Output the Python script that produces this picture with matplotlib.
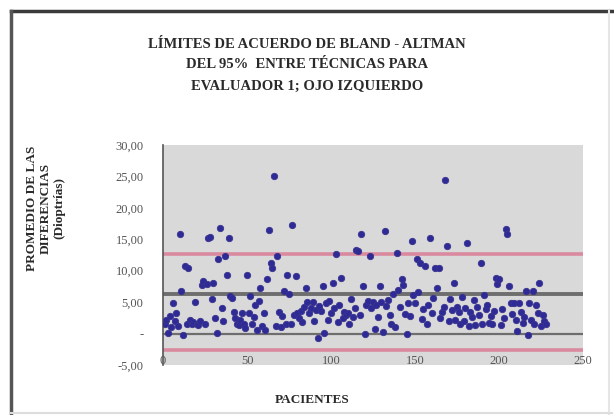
import matplotlib
matplotlib.use("Agg")
import matplotlib.pyplot as plt
from matplotlib.ticker import FuncFormatter
from matplotlib.lines import Line2D

# ---- data ----
diferencias = [
    1.5, 2.2, 0.1, 2.8, 1.0, 4.9, 2.0, 3.3, 1.2, 15.8,
    6.8, -0.2, 10.8, 1.6, 10.4, 2.1, 1.5, 1.8, 5.1, 1.6,
    1.4, 2.0, 7.7, 8.4, 1.6, 7.9, 15.2, 15.3, 5.5, 8.0,
    2.5, 0.1, 11.8, 16.8, 4.1, 2.0, 12.4, 9.3, 15.2, 6.0,
    5.7, 3.4, 2.5, 1.5, 1.4, 2.2, 3.3, 1.6, 0.9, 9.3,
    3.3, 6.0, 1.5, 2.7, 4.5, 0.6, 5.2, 7.2, 1.2, 3.3,
    0.6, 8.7, 16.4, 11.2, 10.5, 25.1, 1.2, 12.3, 3.4, 1.1,
    2.8, 6.8, 1.6, 9.3, 6.3, 1.6, 17.3, 3.0, 9.2, 3.3,
    2.4, 3.6, 1.8, 4.2, 7.3, 5.0, 3.3, 4.1, 5.0, 2.0,
    3.8, -0.7, 4.4, 3.6, 7.6, 0.1, 4.8, 2.2, 5.2, 3.2,
    8.0, 4.0, 12.7, 1.8, 4.6, 8.9, 2.5, 3.5, 2.9, 3.3,
    1.6, 5.5, 2.7, 4.0, 13.3, 13.1, 3.0, 15.8, 7.6, -0.1,
    4.5, 5.2, 12.3, 4.0, 5.1, 0.75, 4.6, 2.7, 7.6, 5.0,
    0.2, 16.3, 4.4, 5.4, 3.0, 1.5, 6.3, 1.1, 12.8, 6.9,
    4.2, 8.7, 7.7, 3.1, 0.0, 4.9, 2.8, 14.7, 6.2, 4.8,
    11.9, 6.6, 11.2, 2.3, 3.9, 10.8, 1.5, 4.5, 15.2, 3.3,
    5.6, 10.5, 7.2, 10.4, 2.4, 3.5, 4.2, 24.5, 13.9, 2.0,
    5.5, 3.8, 8.0, 2.2, 4.3, 3.4, 1.5, 5.8, 2.0, 4.1,
    14.4, 1.2, 3.5, 2.6, 5.3, 1.3, 4.2, 3.0, 11.3, 1.6,
    6.1, 3.9, 4.5, 1.7, 2.8, 1.5, 3.6, 8.9, 7.9, 8.7,
    1.4, 3.9, 2.5, 16.7, 15.9, 7.6, 4.8, 3.1, 4.9, 2.2,
    0.4, 4.9, 3.5, 1.7, 2.6, 6.8, -0.2, 4.8, 2.1, 6.8,
    1.5, 4.5, 3.3, 8.0, 1.2, 3.0, 2.0, 1.6,
]
pacientes = list(range(1, len(diferencias) + 1))

media = 6.3
limite_superior = 12.7
limite_inferior = -2.6
cero = 0.0

titulo = ["LÍMITES DE ACUERDO DE BLAND - ALTMAN",
          "DEL 95%  ENTRE TÉCNICAS PARA",
          "EVALUADOR 1; OJO IZQUIERDO"]
etiqueta_y = ["PROMEDIO DE LAS", "DIFERENCIAS", "(Dioptrías)"]
etiqueta_x = "PACIENTES"
x_ticks = [0, 50, 100, 150, 200, 250]
y_ticks = [-5, 0, 5, 10, 15, 20, 25, 30]

# ---- figure ----
W, H = 614, 415
fig = plt.figure(figsize=(W / 100, H / 100), dpi=100)
fig.patch.set_facecolor("white")

ax = fig.add_axes([163 / W, 50 / H, 420 / W, 220 / H])
ax.set_facecolor("#D9D9D9")
ax.set_xlim(0, 250)
ax.set_ylim(-5, 30)

pink = "#D98A9F"
dark = "#6E6E6E"
ax.axhline(limite_superior, color=pink, lw=2.6, zorder=2)
ax.axhline(limite_inferior, color=pink, lw=2.6, zorder=2)
ax.axhline(media, color=dark, lw=2.8, zorder=2)
ax.axhline(cero, color=dark, lw=1.6, zorder=2)

ax.plot(pacientes, diferencias, linestyle="none", marker="o", markersize=4.6,
        color="#2E2A96", markeredgecolor="#3A3390", markeredgewidth=0.6, zorder=3)

for s in ["top", "right", "bottom"]:
    ax.spines[s].set_visible(False)
ax.spines["left"].set_color("#555555")
ax.spines["left"].set_linewidth(1.2)

serif = ["Liberation Serif", "DejaVu Serif"]

ax.set_xticks(x_ticks)
ax.set_yticks(y_ticks)
ax.yaxis.set_major_formatter(FuncFormatter(
    lambda v, p: "-" if abs(v) < 1e-9 else f"{v:.2f}".replace(".", ",")))
ax.tick_params(axis="y", length=0, pad=14, labelsize=9, labelcolor="#555555")
ax.tick_params(axis="x", length=0, pad=-7, labelsize=9, labelcolor="#555555")
for lab in ax.get_xticklabels() + ax.get_yticklabels():
    lab.set_family(serif)

# title
for i, line in enumerate(titulo):
    fig.text(307 / W, 1 - (44 + 21 * i) / H, line, ha="center", va="center",
             fontsize=10.5, fontweight="bold", family=serif, color="#2A2A2A")

# y label (rotated, three lines)
for i, (line, xp) in enumerate(zip(etiqueta_y, [32, 46, 59])):
    fig.text(xp / W, 1 - 208 / H, line, ha="center", va="center", rotation=90,
             fontsize=9.5, fontweight="bold", family=serif, color="#2A2A2A")

# x label
fig.text(312 / W, 1 - 400 / H, etiqueta_x, ha="center", va="center",
         fontsize=9.5, fontweight="bold", family=serif, color="#2A2A2A")

# chart frame
fig.add_artist(Line2D([11 / W, 612 / W], [1 - 11 / H, 1 - 11 / H],
                      transform=fig.transFigure, color="#3A3A3A", lw=2.5))
fig.add_artist(Line2D([11 / W, 11 / W], [1 - 11 / H, 1 - 414 / H],
                      transform=fig.transFigure, color="#555555", lw=2.5))
fig.add_artist(Line2D([609 / W, 609 / W], [1 - 11 / H, 1 - 414 / H],
                      transform=fig.transFigure, color="#E6E6E6", lw=1.5))
fig.add_artist(Line2D([11 / W, 612 / W], [1 - 413 / H, 1 - 413 / H],
                      transform=fig.transFigure, color="#DDDDDD", lw=1.5))

fig.savefig("out.png", dpi=100, facecolor="white")
